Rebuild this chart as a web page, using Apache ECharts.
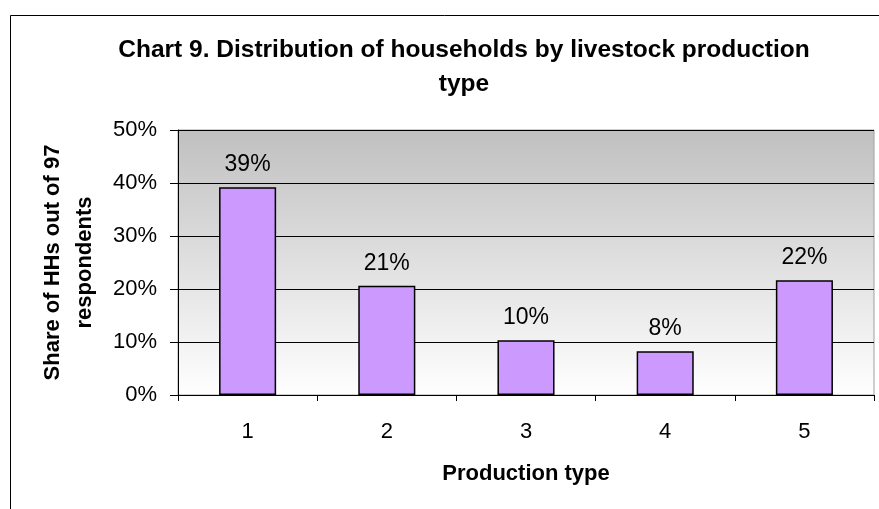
<!DOCTYPE html>
<html>
<head>
<meta charset="utf-8">
<script src="https://cdn.jsdelivr.net/npm/echarts@6/dist/echarts.min.js"></script>
<style>html,body{margin:0;padding:0;background:#fff;}#c{width:879px;height:509px;}</style>
</head>
<body>
<div id="c"></div>
<script>
var categories = ['1', '2', '3', '4', '5'];
var shares = [39.18, 20.62, 10.31, 8.25, 21.65];
var yTicks = [0, 10, 20, 30, 40, 50];
var titleText = 'Chart 9. Distribution of households by livestock production\ntype';
var yName = 'Share of HHs out of 97\nrespondents';
var xName = 'Production type';

var chart = echarts.init(document.getElementById('c'), null, {renderer: 'canvas'});
var F = 'Liberation Sans, Arial, sans-serif';
chart.setOption({
  animation: false,
  backgroundColor: '#ffffff',
  graphic: [
    {type: 'line', shape: {x1: 10.5, y1: 15.5, x2: 10.5, y2: 509}, style: {stroke: '#000', lineWidth: 1}, z: 10},
    {type: 'line', shape: {x1: 10.5, y1: 15.5, x2: 879, y2: 15.5}, style: {stroke: '#000', lineWidth: 1}, z: 10}
  ],
  title: {
    text: titleText,
    left: 459, top: 28, textAlign: 'center',
    textStyle: {fontFamily: F, fontWeight: 'bold', fontSize: 24.5, color: '#000', lineHeight: 34}
  },
  grid: {
    left: 178, top: 130, right: 5, bottom: 114,
    show: true,
    borderColor: '#a0a0a0', borderWidth: 1,
    backgroundColor: {type: 'linear', x: 0, y: 0, x2: 0, y2: 1,
      colorStops: [{offset: 0, color: '#c0c0c0'}, {offset: 1, color: '#ffffff'}]}
  },
  xAxis: {
    type: 'category', data: categories,
    name: xName, nameLocation: 'middle', nameGap: 68,
    nameTextStyle: {fontFamily: F, fontWeight: 'bold', fontSize: 22, color: '#000'},
    axisLine: {lineStyle: {color: '#000', width: 1}},
    axisTick: {show: true, length: 6, lineStyle: {color: '#000'}},
    axisLabel: {fontFamily: F, fontSize: 22, color: '#000', margin: 26}
  },
  yAxis: {
    type: 'value', min: 0, max: 50, interval: 10,
    name: yName, nameLocation: 'middle', nameGap: 77, nameRotate: 90,
    nameTextStyle: {fontFamily: F, fontWeight: 'bold', fontSize: 22, color: '#000', lineHeight: 32},
    axisLine: {show: true, lineStyle: {color: '#000', width: 1}},
    axisTick: {show: true, length: 8, lineStyle: {color: '#000'}},
    axisLabel: {fontFamily: F, fontSize: 22, color: '#000', margin: 21,
      formatter: function (v) { return yTicks.indexOf(v) >= 0 ? v + '%' : ''; }},
    splitLine: {show: true, lineStyle: {color: '#000', width: 1}}
  },
  series: [{
    type: 'bar', data: shares,
    barWidth: '41%',
    itemStyle: {color: '#cc99ff', borderColor: '#000', borderWidth: 1.5},
    label: {show: true, position: 'top', distance: 11, fontFamily: F, fontSize: 23, color: '#000',
      formatter: function (p) { return Math.round(p.value) + '%'; }}
  }]
});
</script>
</body>
</html>
